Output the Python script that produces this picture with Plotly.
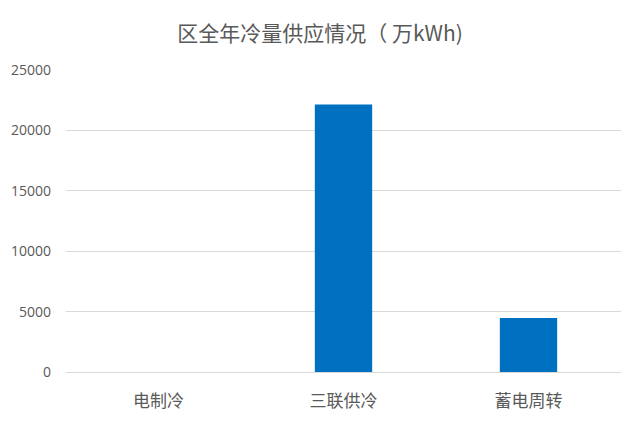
import plotly.graph_objects as go

categories = ["电制冷", "三联供冷", "蓄电周转"]
values = [0, 22150, 4480]
y_ticks = [0, 5000, 10000, 15000, 20000, 25000]

fig = go.Figure()
fig.add_trace(go.Bar(
    x=categories, y=values, marker=dict(color="#0070C0", line=dict(width=0)),
    width=0.31,
))
fig.update_layout(
    width=640, height=427,
    margin=dict(l=66, r=19, t=70, b=55, autoexpand=False),
    paper_bgcolor="white", plot_bgcolor="white",
    font=dict(family="Noto Sans CJK SC, Microsoft YaHei, sans-serif", color="#595959"),
    title=dict(text="区全年冷量供应情况（ 万kWh)", x=0.5, xanchor="center", y=0.922, yanchor="middle",
               font=dict(size=21, color="#595959")),
    showlegend=False,
)
fig.update_yaxes(range=[0, 25000], tickvals=y_ticks, tickformat="d", showgrid=True, gridcolor="#D9D9D9", gridwidth=1,
                 zeroline=False, showline=False, ticks="", tickfont=dict(family="Open Sans, sans-serif", size=14, color="#595959"),
                 ticklabelstandoff=14)
fig.update_xaxes(showline=True, linecolor="#D9D9D9", linewidth=1, ticks="",
                 tickfont=dict(size=17, color="#595959"), ticklabelstandoff=14)
fig.write_html("out.html", config={"displayModeBar": False},
               post_script="document.body.style.margin='0';")
